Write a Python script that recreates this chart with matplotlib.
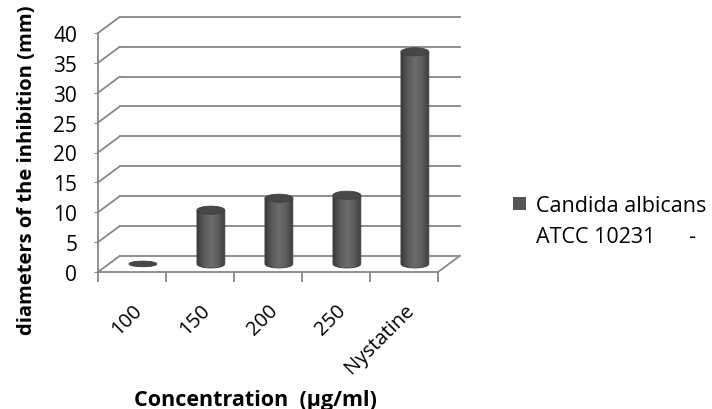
import numpy as np
import matplotlib.pyplot as plt
from matplotlib.colors import LinearSegmentedColormap
from matplotlib.patches import Ellipse, PathPatch, Patch
from matplotlib.path import Path

plt.rcParams['font.family'] = ['Open Sans', 'DejaVu Sans']

concentrations = ['100', '150', '200', '250', 'Nystatine']
inhibition = [0.0, 9.0, 11.0, 11.5, 35.5]
y_ticks = [0, 5, 10, 15, 20, 25, 30, 35, 40]
series_name = ['Candida albicans', 'ATCC 10231      -']

# depth of the pseudo-3D box, in data units (x: categories, y: mm)
DX, DY = 0.32, 2.7
bar_w = 0.41
ell_h = 1.35
grid_col = '#878787'

fig = plt.figure(figsize=(7.12, 4.10), dpi=100)
ax = fig.add_axes([98 / 712, 137 / 410, 340 / 712, 239 / 410])
ax.set_facecolor('none')
n = len(concentrations)
x0, x1 = -0.5, n - 0.5

# back wall gridlines and the side-wall diagonals
for y in y_ticks:
    ax.plot([x0 + DX, x1 + DX], [y + DY, y + DY], color=grid_col, lw=1.3,
            clip_on=False, zorder=1)
    ax.plot([x0, x0 + DX], [y, y + DY], color=grid_col, lw=1.3,
            clip_on=False, zorder=1)
# right edge of the floor
ax.plot([x1, x1 + DX], [0, DY], color=grid_col, lw=1.3, clip_on=False, zorder=1)

shade = LinearSegmentedColormap.from_list(
    'cyl', ['#3a3a3a', '#5a5a5a', '#6c6c6c', '#5e5e5e', '#3c3c3c'])
grad = np.linspace(0, 1, 64).reshape(1, -1)

# cylinders sit halfway into the depth
for i, v in enumerate(inhibition):
    cx = i + DX / 2
    base = DY / 2
    top = v + DY / 2
    if v > 0:
        t = np.linspace(np.pi, 2 * np.pi, 40)
        arc = np.column_stack([cx + bar_w / 2 * np.cos(t),
                               base + ell_h / 2 * np.sin(t)])
        verts = np.vstack([[cx - bar_w / 2, top], arc, [cx + bar_w / 2, top],
                           [cx - bar_w / 2, top]])
        body = PathPatch(Path(verts, closed=True), facecolor='none',
                         edgecolor='#404040', lw=0.6, zorder=3, clip_on=False)
        ax.add_patch(body)
        im = ax.imshow(grad, cmap=shade, aspect='auto', zorder=2.5,
                       extent=(cx - bar_w / 2, cx + bar_w / 2, base - ell_h, top),
                       interpolation='bilinear')
        im.set_clip_path(body)
    ax.add_patch(Ellipse((cx, top), bar_w, ell_h if v > 0 else ell_h * 0.7,
                         facecolor='#474747', edgecolor='#3e3e3e', lw=0.6,
                         zorder=4, clip_on=False))

ax.set_xlim(x0, x1)
ax.set_ylim(0, 40)

for side in ['top', 'right']:
    ax.spines[side].set_visible(False)
for side in ['left', 'bottom']:
    ax.spines[side].set_color(grid_col)
    ax.spines[side].set_linewidth(1.3)

ax.set_yticks(y_ticks)
ax.tick_params(axis='y', length=3, color=grid_col, pad=12, labelsize=15)
ax.set_xticks(range(n))
ax.set_xticklabels(concentrations, rotation=45, ha='right',
                   rotation_mode='anchor', fontsize=14.5)
ax.tick_params(axis='x', which='major', length=0, pad=20)
ax.set_xticks(np.arange(x0, x1 + 0.5, 1), minor=True)
ax.tick_params(axis='x', which='minor', length=7, color=grid_col, width=1.3)

ax.set_ylabel('diameters of the inhibition (mm)', fontsize=14.5,
              fontweight='bold')
ax.yaxis.set_label_coords(-0.18, 0.43)
ax.set_xlabel('Concentration  (µg/ml)', fontsize=15.5, fontweight='bold')
ax.xaxis.set_label_coords(0.462, -0.49)

# legend: square on the first line, strain number on the second
ax.legend([Patch(facecolor='#555555'), Patch(facecolor='none', edgecolor='none')],
          series_name, frameon=False, fontsize=15.5,
          loc='upper left', bbox_to_anchor=(513 / 712, 1 - 196 / 410),
          bbox_transform=fig.transFigure, borderpad=0, borderaxespad=0,
          handlelength=0.6, handleheight=0.6, handletextpad=0.45,
          labelspacing=0.45)

fig.savefig('out.png', dpi=100)
